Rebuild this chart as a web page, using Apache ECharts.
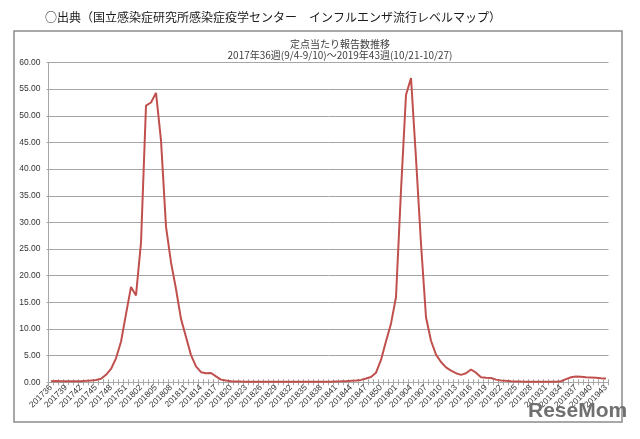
<!DOCTYPE html>
<html>
<head>
<meta charset="utf-8">
<script src="https://cdn.jsdelivr.net/npm/echarts@6/dist/echarts.min.js"></script>
<style>html,body{margin:0;padding:0;background:#fff}#c{width:640px;height:439px}</style>
</head>
<body>
<div id="c"></div>
<script>
// Categories (year + ISO week)
var categories = [
'201736','201737','201738','201739','201740','201741','201742','201743','201744','201745','201746','201747','201748','201749','201750','201751','201752',
'201801','201802','201803','201804','201805','201806','201807','201808','201809','201810','201811','201812','201813','201814','201815','201816','201817','201818','201819','201820','201821','201822','201823','201824','201825','201826','201827','201828','201829','201830','201831','201832','201833','201834','201835','201836','201837','201838','201839','201840','201841','201842','201843','201844','201845','201846','201847','201848','201849','201850','201851','201852',
'201901','201902','201903','201904','201905','201906','201907','201908','201909','201910','201911','201912','201913','201914','201915','201916','201917','201918','201919','201920','201921','201922','201923','201924','201925','201926','201927','201928','201929','201930','201931','201932','201933','201934','201935','201936','201937','201938','201939','201940','201941','201942','201943'
];
// Reports per sentinel
var values2017 = [0.2,0.25,0.22,0.2,0.22,0.2,0.22,0.28,0.35,0.45,0.65,1.4,2.5,4.5,7.6,12.8,17.9];
var values2018 = [16.3,26.2,51.9,52.5,54.3,45.4,29.2,22.5,17.5,11.9,8.5,5.1,3.0,1.9,1.7,1.75,1.1,0.5,0.32,0.18,
  0.15,0.13,0.12,0.12,0.1,0.1,0.1,0.08,0.08,0.08,0.08,0.08,0.08,0.08,0.1,0.1,0.1,0.1,0.12,0.12,0.15,0.18,0.22,0.28,0.35,0.45,0.7,1.0,1.8,4.2,7.7,11.0];
var values2019 = [16.0,36.0,53.9,57.1,42.0,26.0,12.2,7.8,5.2,3.8,2.8,2.2,1.7,1.4,1.7,2.4,1.8,0.95,0.85,0.8,0.5,0.35,0.27,0.2,0.15,0.13,
  0.12,0.12,0.12,0.12,0.12,0.12,0.12,0.2,0.6,0.95,1.1,1.05,0.95,0.9,0.85,0.75,0.7];
var yTicks = [0,5,10,15,20,25,30,35,40,45,50,55,60];

var values = values2017.concat(values2018, values2019);
var gray = '#a6a6a6';
var chart = echarts.init(document.getElementById('c'), null, {renderer:'canvas'});
chart.setOption({
  animation:false,
  backgroundColor:'#fff',
  title:[
    {text:'○出典（国立感染症研究所感染症疫学センター　インフルエンザ流行レベルマップ）', left:40, top:6,
     textStyle:{fontSize:12, fontWeight:'normal', color:'#1a1a1a', fontFamily:'Noto Sans CJK JP'}},
    {text:'定点当たり報告数推移', subtext:'2017年36週(9/4-9/10)～2019年43週(10/21-10/27)', left:335, top:34, textAlign:'center', itemGap:1,
     textStyle:{fontSize:10, fontWeight:'normal', color:'#404040', fontFamily:'Noto Sans CJK JP'},
     subtextStyle:{fontSize:10, color:'#404040', fontFamily:'Noto Sans CJK JP'}}
  ],
  graphic:[
    {type:'rect', shape:{x:14, y:31, width:608, height:391}, style:{fill:null, stroke:'#8c8c8c', lineWidth:1.5}, z:-1},
    {type:'text', left:528, top:401, style:{text:'ReseMom', fill:'#707070', font:'bold 21px "Liberation Sans"'}, z:100}
  ],
  grid:{left:48.5, right:31.5, top:62.5, bottom:56.7, containLabel:false},
  xAxis:[
    {type:'category', data:categories, boundaryGap:true, position:'bottom',
     axisLine:{lineStyle:{color:gray, width:1}},
     axisTick:{show:true, interval:0, length:3, lineStyle:{color:gray}},
     axisLabel:{interval:2, rotate:45, fontSize:8.5, margin:4, color:'#333', fontFamily:'Liberation Sans'}},
    {type:'category', data:categories, boundaryGap:true, position:'bottom', gridIndex:0,
     axisLine:{show:false},
     axisTick:{show:true, inside:true, interval:0, length:3, lineStyle:{color:gray}},
     axisLabel:{show:false}, splitLine:{show:false}}
  ],
  yAxis:{type:'value', min:yTicks[0], max:yTicks[yTicks.length-1], interval:5,
    axisLine:{show:true, lineStyle:{color:gray}},
    axisTick:{show:true, length:2, lineStyle:{color:gray}},
    splitLine:{lineStyle:{color:gray, width:1}},
    axisLabel:{formatter:function(v){return v.toFixed(2);}, fontSize:8.5, margin:8, color:'#333', fontFamily:'Liberation Sans'}},
  series:[{type:'line', data:values, xAxisIndex:0, symbol:'none', lineStyle:{color:'#c0504d', width:2}, itemStyle:{color:'#c0504d'}}]
});
</script>
</body>
</html>
